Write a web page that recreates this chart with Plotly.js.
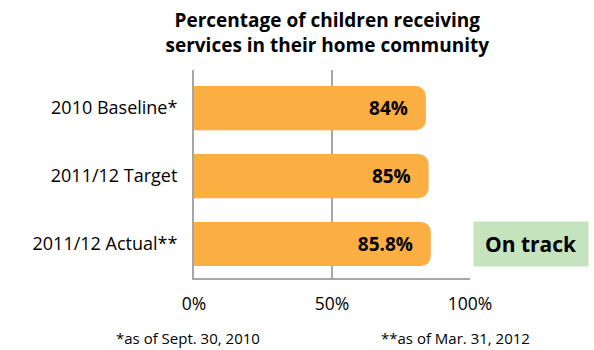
<!DOCTYPE html>
<html>
<head>
<meta charset="utf-8">
<script src="https://cdn.plot.ly/plotly-3.0.1.min.js"></script>
<style>html,body{margin:0;padding:0;background:#fff;}#chart{width:594px;height:350px;}</style>
</head>
<body>
<div id="chart"></div>
<script>
var categories = ["2010 Baseline*", "2011/12 Target", "2011/12 Actual**"];
var values = [84, 85, 85.8];
var tickVals = [0, 50, 100];
var tickText = ["0%", "50%", "100%"];
var titleText = "Percentage of children receiving<br>services in their home community";
var statusText = "On track";
var footnotes = ["*as of Sept. 30, 2010", "**as of Mar. 31, 2012"];

var FONT = "Open Sans, Noto Sans, sans-serif";
var PAD = "\u00a0\u00a0\u00a0";

var trace = {
  type: "bar",
  orientation: "h",
  y: categories,
  x: values,
  width: 0.65,
  marker: {color: "#FBAE42", cornerradius: 10},
  texttemplate: "<b>%{x}%</b>" + PAD,
  textposition: "inside",
  insidetextanchor: "end",
  textfont: {family: FONT, size: 19, color: "#000"},
  hoverinfo: "none",
  cliponaxis: false
};

var layout = {
  width: 594, height: 350,
  margin: {l: 194, r: 124, t: 70, b: 72},
  paper_bgcolor: "#fff", plot_bgcolor: "#fff",
  showlegend: false,
  font: {family: FONT, color: "#000"},
  title: {
    text: "<b>" + titleText + "</b>",
    font: {family: FONT, size: 19, color: "#000"},
    x: 0.551, xanchor: "center",
    y: 1 - 27 / 350, yanchor: "middle", yref: "container"
  },
  xaxis: {
    range: [0, 100],
    tickvals: tickVals, ticktext: tickText,
    showgrid: true, gridcolor: "#A6A6A8", gridwidth: 2,
    zeroline: false,
    showline: true, linecolor: "#A6A6A8", linewidth: 2,
    ticks: "", ticklabelstandoff: 9,
    tickfont: {family: FONT, size: 17.5, color: "#000"},
    fixedrange: true
  },
  yaxis: {
    type: "category",
    range: [2.5, -0.56],
    showgrid: false, zeroline: false,
    showline: true, linecolor: "#A6A6A8", linewidth: 2,
    ticks: "", ticklabelstandoff: 11,
    tickfont: {family: FONT, size: 18, color: "#000"},
    fixedrange: true
  },
  annotations: [
    {
      text: "<b>" + statusText + "</b>",
      xref: "paper", yref: "y",
      x: 1.0109, y: categories[2],
      xanchor: "left", yanchor: "middle",
      showarrow: false,
      bgcolor: "#C5E3BD",
      width: 112, height: 42,
      font: {family: FONT, size: 21, color: "#000"}
    },
    {
      text: footnotes[0],
      xref: "paper", yref: "paper",
      x: -0.022, y: -0.29, xanchor: "center", yanchor: "middle",
      showarrow: false,
      font: {family: FONT, size: 15, color: "#000"}
    },
    {
      text: footnotes[1],
      xref: "paper", yref: "paper",
      x: 0.946, y: -0.29, xanchor: "center", yanchor: "middle",
      showarrow: false,
      font: {family: FONT, size: 15, color: "#000"}
    }
  ]
};

Plotly.newPlot("chart", [trace], layout, {displayModeBar: false, staticPlot: true});
</script>
</body>
</html>
